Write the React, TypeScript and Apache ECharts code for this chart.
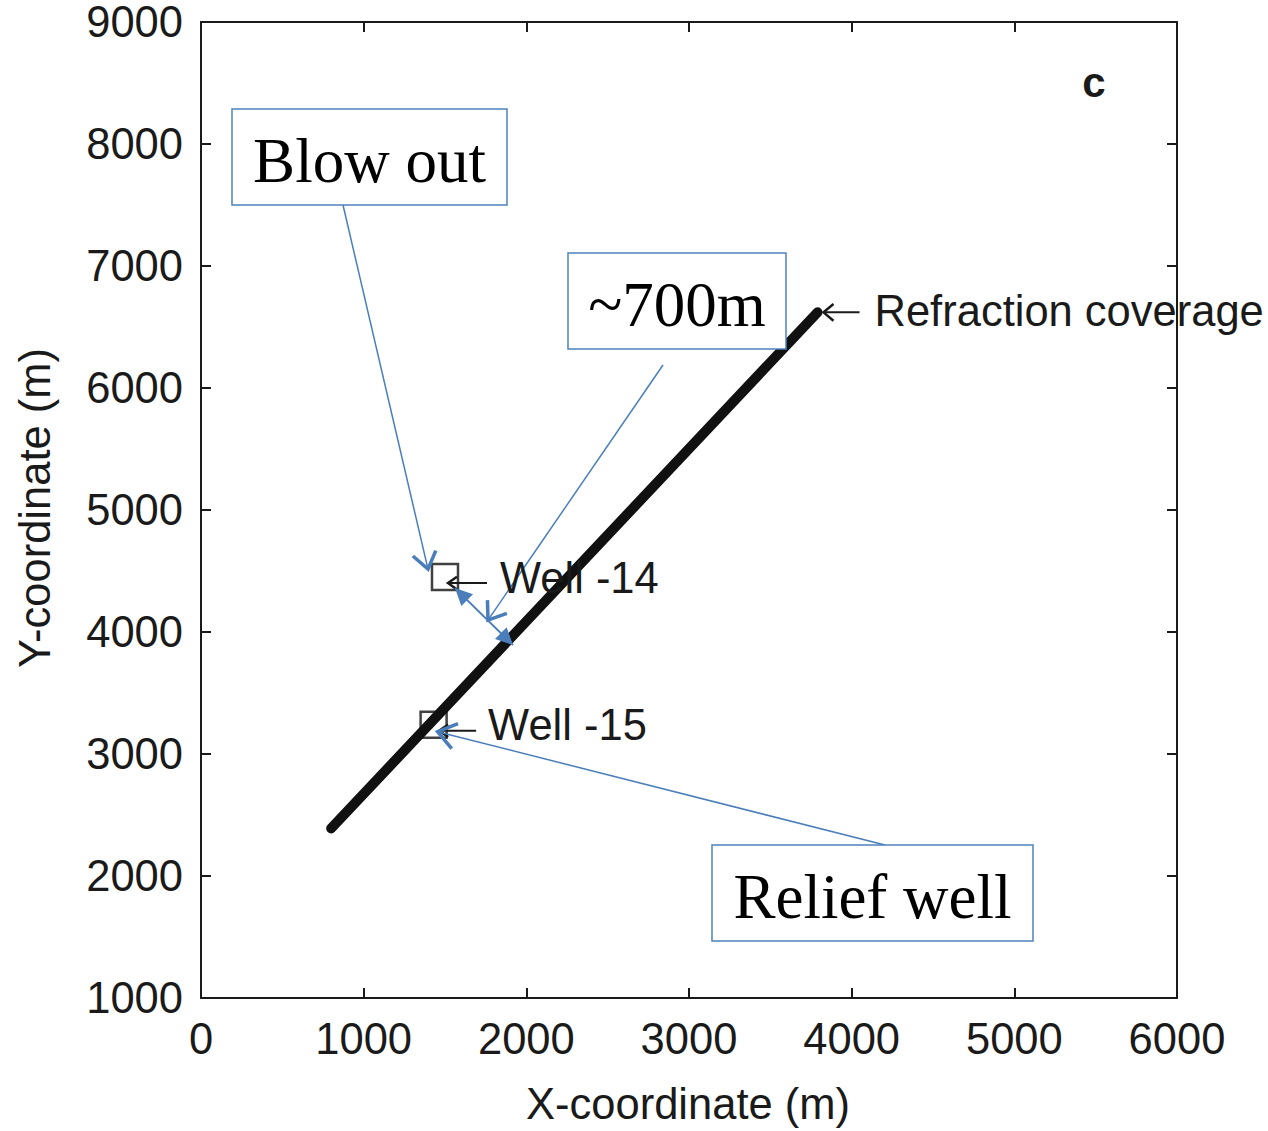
import { useEffect, useRef } from "react";
import * as echarts from "echarts";

// Axis ranges (metres)
const xRange = [0, 6000];
const yRange = [1000, 9000];
const tickStep = 1000;

// Refraction coverage profile, end points in map coordinates
const coverageLine: [number, number][] = [
  [800, 2390],
  [3790, 6620],
];

// Well locations
const wellNames = ["Well -14", "Well -15"];
const wellPoints: [number, number][] = [
  [1500, 4450],
  [1430, 3240],
];

const panelLetter = "c";
const coverageLabel = "Refraction coverage";
const calloutTexts = ["Blow out", "~700m", "Relief well"];

const SANS = "'Liberation Sans', Arial, Helvetica, sans-serif";
const SERIF = "'Liberation Serif', 'Times New Roman', serif";
const INK = "#1a1a1a";
const BLUE = "#4a7ebb";
const BOX_BLUE = "#4f81bd";
const FS = 43.5;

type Pt = [number, number];

const add = (p: Pt, dx: number, dy: number): Pt => [p[0] + dx, p[1] + dy];

// Two arms of an arrow head ending at tip, coming from "from"
function headArms(tip: Pt, from: Pt, len: number, halfAngleDeg: number): [Pt, Pt] {
  const dx = tip[0] - from[0];
  const dy = tip[1] - from[1];
  const n = Math.hypot(dx, dy) || 1;
  const ux = dx / n;
  const uy = dy / n;
  const a = (halfAngleDeg * Math.PI) / 180;
  const rot = (s: number): Pt => {
    const c = Math.cos(a * s);
    const si = Math.sin(a * s);
    const rx = ux * c - uy * si;
    const ry = ux * si + uy * c;
    return [tip[0] - len * rx, tip[1] - len * ry];
  };
  return [rot(1), rot(-1)];
}

function openArrow(from: Pt, tip: Pt, color: string, lineW: number, headLen: number, headW: number, headAngle = 35) {
  const [a1, a2] = headArms(tip, from, headLen, headAngle);
  return [
    { type: "line", shape: { x1: from[0], y1: from[1], x2: tip[0], y2: tip[1] }, style: { stroke: color, lineWidth: lineW }, z: 20 },
    { type: "polyline", shape: { points: [a1, tip, a2] }, style: { stroke: color, lineWidth: headW, fill: null }, z: 20 },
  ];
}

function doubleArrow(p1: Pt, p2: Pt, color: string) {
  const [a1, a2] = headArms(p1, p2, 19, 26);
  const [b1, b2] = headArms(p2, p1, 19, 26);
  return [
    { type: "line", shape: { x1: p1[0], y1: p1[1], x2: p2[0], y2: p2[1] }, style: { stroke: color, lineWidth: 2 }, z: 20 },
    { type: "polygon", shape: { points: [p1, a1, a2] }, style: { fill: color }, z: 20 },
    { type: "polygon", shape: { points: [p2, b1, b2] }, style: { fill: color }, z: 20 },
  ];
}

function callout(x: number, y: number, w: number, h: number, text: string) {
  return [
    { type: "rect", shape: { x, y, width: w, height: h }, style: { fill: "#ffffff", stroke: BOX_BLUE, lineWidth: 1.5 }, z: 30 },
    {
      type: "text",
      x: x + w / 2,
      y: y + h / 2 + 4,
      style: { text, font: `63px ${SERIF}`, fill: "#000000", align: "center", verticalAlign: "middle" },
      z: 31,
    },
  ];
}

function sideLabel(p: Pt, text: string) {
  return {
    type: "text",
    x: p[0],
    y: p[1],
    style: { text, font: `${FS}px ${SANS}`, fill: INK, align: "left", verticalAlign: "middle" },
    z: 25,
  };
}

export default function App() {
  const ref = useRef<HTMLDivElement>(null);

  useEffect(() => {
    if (!ref.current) return;
    const chart = echarts.init(ref.current, undefined, { renderer: "svg" });

    const axisLine = { show: true, onZero: false, lineStyle: { color: INK, width: 2 } };
    const axisTick = { show: true, inside: true, length: 10, lineStyle: { color: INK, width: 2 } };
    const label = {
      fontFamily: SANS,
      fontSize: FS,
      lineHeight: 36,
      color: INK,
      formatter: (v: number) => String(v),
    };

    chart.setOption({
      animation: false,
      backgroundColor: "#ffffff",
      grid: { left: 201, top: 22, right: 91, bottom: 133, containLabel: false },
      xAxis: [
        {
          type: "value", min: xRange[0], max: xRange[1], interval: tickStep, position: "bottom",
          axisLine, axisTick, axisLabel: { ...label, margin: 23 }, splitLine: { show: false },
        },
        {
          type: "value", min: xRange[0], max: xRange[1], interval: tickStep, position: "top",
          axisLine, axisTick, axisLabel: { show: false }, splitLine: { show: false },
        },
      ],
      yAxis: [
        {
          type: "value", min: yRange[0], max: yRange[1], interval: tickStep, position: "left",
          axisLine, axisTick, axisLabel: { ...label, margin: 18 }, splitLine: { show: false },
        },
        {
          type: "value", min: yRange[0], max: yRange[1], interval: tickStep, position: "right",
          axisLine, axisTick, axisLabel: { show: false }, splitLine: { show: false },
        },
      ],
      series: [
        {
          type: "scatter",
          name: "Wells",
          xAxisIndex: 0,
          yAxisIndex: 0,
          data: wellPoints.map((p, i) => ({ name: wellNames[i], value: p })),
          symbol: "rect",
          symbolSize: 26,
          itemStyle: { color: "rgba(255,255,255,0)", borderColor: "#111111", borderWidth: 2.5 },
          z: 2,
        },
        {
          type: "line",
          name: coverageLabel,
          xAxisIndex: 0,
          yAxisIndex: 0,
          data: coverageLine,
          showSymbol: false,
          lineStyle: { color: "#111111", width: 10, cap: "round" },
          z: 3,
        },
      ],
    });

    const toPx = (p: [number, number]): Pt => chart.convertToPixel({ gridIndex: 0 }, p) as Pt;
    const w14 = toPx(wellPoints[0]);
    const w15 = toPx(wellPoints[1]);
    const lineTop = toPx(coverageLine[1]);

    const graphic: any[] = [
      // axis titles
      {
        type: "text", x: 688, y: 1104,
        style: { text: "X-coordinate (m)", font: `${FS}px ${SANS}`, fill: INK, align: "center", verticalAlign: "middle" },
      },
      {
        type: "text", x: 35, y: 508, rotation: Math.PI / 2,
        style: { text: "Y-coordinate (m)", font: `${FS}px ${SANS}`, fill: INK, align: "center", verticalAlign: "middle" },
      },
      // panel letter
      {
        type: "text", x: 1094, y: 82,
        style: { text: panelLetter, font: `bold 42px ${SANS}`, fill: INK, align: "center", verticalAlign: "middle" },
      },
      // black pointer labels
      ...openArrow(add(w14, 42, 6), add(w14, 3, 6), INK, 2, 11, 2.5, 35),
      sideLabel(add(w14, 55, 1), wellNames[0]),
      ...openArrow(add(w15, 42.5, 6), add(w15, 5.5, 6), INK, 2, 11, 2.5, 35),
      sideLabel(add(w15, 54.5, 0), wellNames[1]),
      ...openArrow(add(lineTop, 42, 0), add(lineTop, 6, 0), INK, 2, 13, 2.5, 40),
      sideLabel(add(lineTop, 57, -1), coverageLabel),
      // blue callouts
      ...openArrow([343, 205], add(w14, -17, -8), BLUE, 1.5, 20, 3.5, 36),
      ...openArrow([663, 365], add(w14, 43, 43), BLUE, 1.5, 20, 3.5, 36),
      ...doubleArrow(add(w14, 10, 11), add(w14, 68, 68), BLUE),
      ...openArrow([885, 845], add(w15, 4, 7), BLUE, 1.5, 22, 3.5, 36),
      ...callout(232, 109, 275, 96, calloutTexts[0]),
      ...callout(568, 253, 218, 96, calloutTexts[1]),
      ...callout(712, 845, 321, 96, calloutTexts[2]),
    ];

    chart.setOption({ graphic });

    return () => chart.dispose();
  }, []);

  return <div ref={ref} style={{ position: "absolute", left: 0, top: 0, width: 1268, height: 1131 }} />;
}
